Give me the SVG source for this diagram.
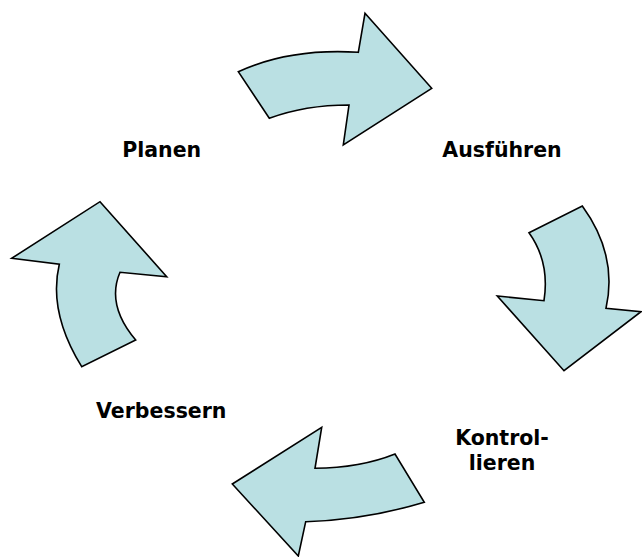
<svg xmlns="http://www.w3.org/2000/svg" width="642" height="557" viewBox="0 0 642 557">
  <style>
    .arrow { fill: #BAE0E3; stroke: #000; stroke-width: 1.6; stroke-linejoin: miter; }
    .label { font-family: "DejaVu Sans", Verdana, sans-serif; font-weight: bold; font-size: 20.5px; fill: #000; text-anchor: middle; }
  </style>
  <rect width="642" height="557" fill="#fff"/>

  <!-- curved block arrows forming the cycle -->
  <g id="connectors">
    <path id="arrow-top" class="arrow" d="M 238.3,71.7 Q 290,48 358.3,52.3 L 365,13.3 L 431.7,88.3 L 343.3,145 L 349,105 Q 305,105 269.3,118.3 Z"/>
    <path id="arrow-right" class="arrow" d="M 529,232.7 L 582.3,206 Q 618,255 606,308.3 L 641,311.7 L 564,370.7 L 497.3,296 L 544,300.7 Q 550,262 529,232.7 Z"/>
    <path id="arrow-bottom" class="arrow" d="M 395,454 Q 360,468 315,468.3 L 321.7,427.3 L 232.3,484 L 298.3,556 L 305.7,521.7 Q 365,520 424.3,502.3 Z"/>
    <path id="arrow-left" class="arrow" d="M 100,201.7 L 166.7,276.7 L 120,272.3 Q 106,305 135.7,340 L 81.7,366.7 Q 48,312 59.3,264.3 L 11.7,258.3 Z"/>
  </g>

  <!-- phase labels -->
  <g id="node-planen"><text class="label" x="161.7" y="156.7">Planen</text></g>
  <g id="node-ausfuehren"><text class="label" x="502" y="156.7">Ausführen</text></g>
  <g id="node-kontrollieren"><text class="label" x="502" y="445">Kontrol-</text><text class="label" x="502" y="470">lieren</text></g>
  <g id="node-verbessern"><text class="label" x="161.3" y="418.3">Verbessern</text></g>
</svg>
